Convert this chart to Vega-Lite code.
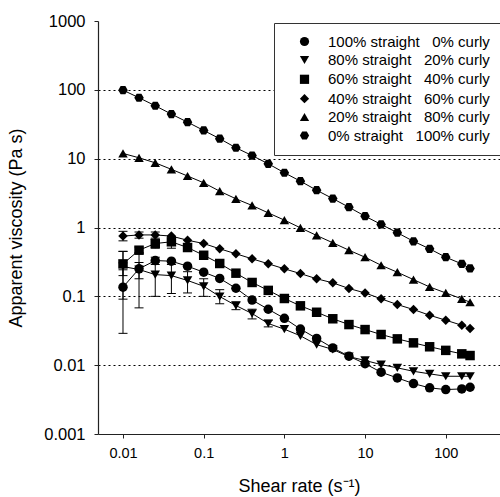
{
  "$schema": "https://vega.github.io/schema/vega-lite/v6.json",
  "width": 402,
  "height": 413,
  "autosize": {"type": "none"},
  "padding": {"left": 98, "top": 21, "right": 0, "bottom": 63},
  "config": {
    "font": "Liberation Sans",
    "view": {"stroke": null},
    "axis": {"domainColor": "#222", "tickColor": "#222", "labelColor": "black", "titleColor": "black", "titleFontWeight": "normal", "domainWidth": 1.2}
  },
  "datasets": {
    "pts": [
      {"series": "100% straight\u00a0\u00a0\u00a00% curly", "x": 0.01, "y": 0.136, "lo": 0.029, "hi": 0.243},
      {"series": "100% straight\u00a0\u00a0\u00a00% curly", "x": 0.0158, "y": 0.251, "lo": 0.068, "hi": 0.434},
      {"series": "100% straight\u00a0\u00a0\u00a00% curly", "x": 0.0251, "y": 0.331, "lo": 0.29, "hi": 0.37},
      {"series": "100% straight\u00a0\u00a0\u00a00% curly", "x": 0.0398, "y": 0.324},
      {"series": "100% straight\u00a0\u00a0\u00a00% curly", "x": 0.0631, "y": 0.274},
      {"series": "100% straight\u00a0\u00a0\u00a00% curly", "x": 0.1, "y": 0.224},
      {"series": "100% straight\u00a0\u00a0\u00a00% curly", "x": 0.158, "y": 0.182},
      {"series": "100% straight\u00a0\u00a0\u00a00% curly", "x": 0.251, "y": 0.131},
      {"series": "100% straight\u00a0\u00a0\u00a00% curly", "x": 0.398, "y": 0.0883},
      {"series": "100% straight\u00a0\u00a0\u00a00% curly", "x": 0.631, "y": 0.0649},
      {"series": "100% straight\u00a0\u00a0\u00a00% curly", "x": 1, "y": 0.0479},
      {"series": "100% straight\u00a0\u00a0\u00a00% curly", "x": 1.58, "y": 0.0335},
      {"series": "100% straight\u00a0\u00a0\u00a00% curly", "x": 2.51, "y": 0.0245},
      {"series": "100% straight\u00a0\u00a0\u00a00% curly", "x": 3.98, "y": 0.0178},
      {"series": "100% straight\u00a0\u00a0\u00a00% curly", "x": 6.31, "y": 0.0135},
      {"series": "100% straight\u00a0\u00a0\u00a00% curly", "x": 10, "y": 0.0105},
      {"series": "100% straight\u00a0\u00a0\u00a00% curly", "x": 15.8, "y": 0.0079},
      {"series": "100% straight\u00a0\u00a0\u00a00% curly", "x": 25.1, "y": 0.00653},
      {"series": "100% straight\u00a0\u00a0\u00a00% curly", "x": 39.8, "y": 0.0054},
      {"series": "100% straight\u00a0\u00a0\u00a00% curly", "x": 63.1, "y": 0.00468},
      {"series": "100% straight\u00a0\u00a0\u00a00% curly", "x": 100, "y": 0.00442},
      {"series": "100% straight\u00a0\u00a0\u00a00% curly", "x": 158, "y": 0.00452},
      {"series": "100% straight\u00a0\u00a0\u00a00% curly", "x": 200, "y": 0.00478},

      {"series": "80% straight\u00a0\u00a0\u00a020% curly", "x": 0.01, "y": 0.271, "lo": 0.091, "hi": 0.45},
      {"series": "80% straight\u00a0\u00a0\u00a020% curly", "x": 0.0158, "y": 0.245, "lo": 0.18, "hi": 0.31},
      {"series": "80% straight\u00a0\u00a0\u00a020% curly", "x": 0.0251, "y": 0.207, "lo": 0.1, "hi": 0.314},
      {"series": "80% straight\u00a0\u00a0\u00a020% curly", "x": 0.0398, "y": 0.2, "lo": 0.11, "hi": 0.29},
      {"series": "80% straight\u00a0\u00a0\u00a020% curly", "x": 0.0631, "y": 0.17, "lo": 0.112, "hi": 0.228},
      {"series": "80% straight\u00a0\u00a0\u00a020% curly", "x": 0.1, "y": 0.14, "lo": 0.1, "hi": 0.18},
      {"series": "80% straight\u00a0\u00a0\u00a020% curly", "x": 0.158, "y": 0.0993, "lo": 0.078, "hi": 0.125},
      {"series": "80% straight\u00a0\u00a0\u00a020% curly", "x": 0.251, "y": 0.0735, "lo": 0.064, "hi": 0.083},
      {"series": "80% straight\u00a0\u00a0\u00a020% curly", "x": 0.398, "y": 0.0562, "lo": 0.047, "hi": 0.065},
      {"series": "80% straight\u00a0\u00a0\u00a020% curly", "x": 0.631, "y": 0.0403, "lo": 0.036, "hi": 0.045},
      {"series": "80% straight\u00a0\u00a0\u00a020% curly", "x": 1, "y": 0.0333},
      {"series": "80% straight\u00a0\u00a0\u00a020% curly", "x": 1.58, "y": 0.0267},
      {"series": "80% straight\u00a0\u00a0\u00a020% curly", "x": 2.51, "y": 0.0199},
      {"series": "80% straight\u00a0\u00a0\u00a020% curly", "x": 3.98, "y": 0.0169},
      {"series": "80% straight\u00a0\u00a0\u00a020% curly", "x": 6.31, "y": 0.0133},
      {"series": "80% straight\u00a0\u00a0\u00a020% curly", "x": 10, "y": 0.0117},
      {"series": "80% straight\u00a0\u00a0\u00a020% curly", "x": 15.8, "y": 0.0102},
      {"series": "80% straight\u00a0\u00a0\u00a020% curly", "x": 25.1, "y": 0.00914},
      {"series": "80% straight\u00a0\u00a0\u00a020% curly", "x": 39.8, "y": 0.00815},
      {"series": "80% straight\u00a0\u00a0\u00a020% curly", "x": 63.1, "y": 0.00748},
      {"series": "80% straight\u00a0\u00a0\u00a020% curly", "x": 100, "y": 0.0069},
      {"series": "80% straight\u00a0\u00a0\u00a020% curly", "x": 158, "y": 0.0069},
      {"series": "80% straight\u00a0\u00a0\u00a020% curly", "x": 200, "y": 0.0069},

      {"series": "60% straight\u00a0\u00a0\u00a040% curly", "x": 0.01, "y": 0.296, "lo": 0.2, "hi": 0.45},
      {"series": "60% straight\u00a0\u00a0\u00a040% curly", "x": 0.0158, "y": 0.468, "lo": 0.42, "hi": 0.52},
      {"series": "60% straight\u00a0\u00a0\u00a040% curly", "x": 0.0251, "y": 0.585, "lo": 0.5, "hi": 0.67},
      {"series": "60% straight\u00a0\u00a0\u00a040% curly", "x": 0.0398, "y": 0.62, "lo": 0.5, "hi": 0.74},
      {"series": "60% straight\u00a0\u00a0\u00a040% curly", "x": 0.0631, "y": 0.512, "lo": 0.45, "hi": 0.58},
      {"series": "60% straight\u00a0\u00a0\u00a040% curly", "x": 0.1, "y": 0.395},
      {"series": "60% straight\u00a0\u00a0\u00a040% curly", "x": 0.158, "y": 0.3},
      {"series": "60% straight\u00a0\u00a0\u00a040% curly", "x": 0.251, "y": 0.217},
      {"series": "60% straight\u00a0\u00a0\u00a040% curly", "x": 0.398, "y": 0.159},
      {"series": "60% straight\u00a0\u00a0\u00a040% curly", "x": 0.631, "y": 0.122},
      {"series": "60% straight\u00a0\u00a0\u00a040% curly", "x": 1, "y": 0.093},
      {"series": "60% straight\u00a0\u00a0\u00a040% curly", "x": 1.58, "y": 0.0728},
      {"series": "60% straight\u00a0\u00a0\u00a040% curly", "x": 2.51, "y": 0.0587},
      {"series": "60% straight\u00a0\u00a0\u00a040% curly", "x": 3.98, "y": 0.0472},
      {"series": "60% straight\u00a0\u00a0\u00a040% curly", "x": 6.31, "y": 0.0389},
      {"series": "60% straight\u00a0\u00a0\u00a040% curly", "x": 10, "y": 0.0329},
      {"series": "60% straight\u00a0\u00a0\u00a040% curly", "x": 15.8, "y": 0.0279},
      {"series": "60% straight\u00a0\u00a0\u00a040% curly", "x": 25.1, "y": 0.0241},
      {"series": "60% straight\u00a0\u00a0\u00a040% curly", "x": 39.8, "y": 0.0211},
      {"series": "60% straight\u00a0\u00a0\u00a040% curly", "x": 63.1, "y": 0.0185},
      {"series": "60% straight\u00a0\u00a0\u00a040% curly", "x": 100, "y": 0.0164},
      {"series": "60% straight\u00a0\u00a0\u00a040% curly", "x": 158, "y": 0.0146},
      {"series": "60% straight\u00a0\u00a0\u00a040% curly", "x": 200, "y": 0.0138},

      {"series": "40% straight\u00a0\u00a0\u00a060% curly", "x": 0.01, "y": 0.75, "lo": 0.64, "hi": 0.88},
      {"series": "40% straight\u00a0\u00a0\u00a060% curly", "x": 0.0158, "y": 0.78, "lo": 0.7, "hi": 0.86},
      {"series": "40% straight\u00a0\u00a0\u00a060% curly", "x": 0.0251, "y": 0.78, "lo": 0.7, "hi": 0.86},
      {"series": "40% straight\u00a0\u00a0\u00a060% curly", "x": 0.0398, "y": 0.75},
      {"series": "40% straight\u00a0\u00a0\u00a060% curly", "x": 0.0631, "y": 0.653},
      {"series": "40% straight\u00a0\u00a0\u00a060% curly", "x": 0.1, "y": 0.585},
      {"series": "40% straight\u00a0\u00a0\u00a060% curly", "x": 0.158, "y": 0.49},
      {"series": "40% straight\u00a0\u00a0\u00a060% curly", "x": 0.251, "y": 0.415},
      {"series": "40% straight\u00a0\u00a0\u00a060% curly", "x": 0.398, "y": 0.351},
      {"series": "40% straight\u00a0\u00a0\u00a060% curly", "x": 0.631, "y": 0.297},
      {"series": "40% straight\u00a0\u00a0\u00a060% curly", "x": 1, "y": 0.251},
      {"series": "40% straight\u00a0\u00a0\u00a060% curly", "x": 1.58, "y": 0.214},
      {"series": "40% straight\u00a0\u00a0\u00a060% curly", "x": 2.51, "y": 0.18},
      {"series": "40% straight\u00a0\u00a0\u00a060% curly", "x": 3.98, "y": 0.157},
      {"series": "40% straight\u00a0\u00a0\u00a060% curly", "x": 6.31, "y": 0.13},
      {"series": "40% straight\u00a0\u00a0\u00a060% curly", "x": 10, "y": 0.112},
      {"series": "40% straight\u00a0\u00a0\u00a060% curly", "x": 15.8, "y": 0.092},
      {"series": "40% straight\u00a0\u00a0\u00a060% curly", "x": 25.1, "y": 0.076},
      {"series": "40% straight\u00a0\u00a0\u00a060% curly", "x": 39.8, "y": 0.0643},
      {"series": "40% straight\u00a0\u00a0\u00a060% curly", "x": 63.1, "y": 0.0531},
      {"series": "40% straight\u00a0\u00a0\u00a060% curly", "x": 100, "y": 0.045},
      {"series": "40% straight\u00a0\u00a0\u00a060% curly", "x": 158, "y": 0.038},
      {"series": "40% straight\u00a0\u00a0\u00a060% curly", "x": 200, "y": 0.034},

      {"series": "20% straight\u00a0\u00a0\u00a080% curly", "x": 0.01, "y": 11.9},
      {"series": "20% straight\u00a0\u00a0\u00a080% curly", "x": 0.0158, "y": 10.3},
      {"series": "20% straight\u00a0\u00a0\u00a080% curly", "x": 0.0251, "y": 8.7},
      {"series": "20% straight\u00a0\u00a0\u00a080% curly", "x": 0.0398, "y": 7.0},
      {"series": "20% straight\u00a0\u00a0\u00a080% curly", "x": 0.0631, "y": 5.6},
      {"series": "20% straight\u00a0\u00a0\u00a080% curly", "x": 0.1, "y": 4.46},
      {"series": "20% straight\u00a0\u00a0\u00a080% curly", "x": 0.158, "y": 3.37},
      {"series": "20% straight\u00a0\u00a0\u00a080% curly", "x": 0.251, "y": 2.61},
      {"series": "20% straight\u00a0\u00a0\u00a080% curly", "x": 0.398, "y": 2.09},
      {"series": "20% straight\u00a0\u00a0\u00a080% curly", "x": 0.631, "y": 1.63},
      {"series": "20% straight\u00a0\u00a0\u00a080% curly", "x": 1, "y": 1.28},
      {"series": "20% straight\u00a0\u00a0\u00a080% curly", "x": 1.58, "y": 0.99},
      {"series": "20% straight\u00a0\u00a0\u00a080% curly", "x": 2.51, "y": 0.766},
      {"series": "20% straight\u00a0\u00a0\u00a080% curly", "x": 3.98, "y": 0.6},
      {"series": "20% straight\u00a0\u00a0\u00a080% curly", "x": 6.31, "y": 0.468},
      {"series": "20% straight\u00a0\u00a0\u00a080% curly", "x": 10, "y": 0.37},
      {"series": "20% straight\u00a0\u00a0\u00a080% curly", "x": 15.8, "y": 0.283},
      {"series": "20% straight\u00a0\u00a0\u00a080% curly", "x": 25.1, "y": 0.224},
      {"series": "20% straight\u00a0\u00a0\u00a080% curly", "x": 39.8, "y": 0.175},
      {"series": "20% straight\u00a0\u00a0\u00a080% curly", "x": 63.1, "y": 0.137},
      {"series": "20% straight\u00a0\u00a0\u00a080% curly", "x": 100, "y": 0.112},
      {"series": "20% straight\u00a0\u00a0\u00a080% curly", "x": 158, "y": 0.092},
      {"series": "20% straight\u00a0\u00a0\u00a080% curly", "x": 200, "y": 0.082},

      {"series": "0% straight\u00a0\u00a0\u00a0100% curly", "x": 0.01, "y": 99},
      {"series": "0% straight\u00a0\u00a0\u00a0100% curly", "x": 0.0158, "y": 76.7},
      {"series": "0% straight\u00a0\u00a0\u00a0100% curly", "x": 0.0251, "y": 58.7},
      {"series": "0% straight\u00a0\u00a0\u00a0100% curly", "x": 0.0398, "y": 44.4},
      {"series": "0% straight\u00a0\u00a0\u00a0100% curly", "x": 0.0631, "y": 33.9},
      {"series": "0% straight\u00a0\u00a0\u00a0100% curly", "x": 0.1, "y": 25.7},
      {"series": "0% straight\u00a0\u00a0\u00a0100% curly", "x": 0.158, "y": 19.5},
      {"series": "0% straight\u00a0\u00a0\u00a0100% curly", "x": 0.251, "y": 14.4},
      {"series": "0% straight\u00a0\u00a0\u00a0100% curly", "x": 0.398, "y": 11.1},
      {"series": "0% straight\u00a0\u00a0\u00a0100% curly", "x": 0.631, "y": 8.43},
      {"series": "0% straight\u00a0\u00a0\u00a0100% curly", "x": 1, "y": 6.24},
      {"series": "0% straight\u00a0\u00a0\u00a0100% curly", "x": 1.58, "y": 4.71},
      {"series": "0% straight\u00a0\u00a0\u00a0100% curly", "x": 2.51, "y": 3.48},
      {"series": "0% straight\u00a0\u00a0\u00a0100% curly", "x": 3.98, "y": 2.63},
      {"series": "0% straight\u00a0\u00a0\u00a0100% curly", "x": 6.31, "y": 1.97},
      {"series": "0% straight\u00a0\u00a0\u00a0100% curly", "x": 10, "y": 1.46},
      {"series": "0% straight\u00a0\u00a0\u00a0100% curly", "x": 15.8, "y": 1.11},
      {"series": "0% straight\u00a0\u00a0\u00a0100% curly", "x": 25.1, "y": 0.84},
      {"series": "0% straight\u00a0\u00a0\u00a0100% curly", "x": 39.8, "y": 0.63},
      {"series": "0% straight\u00a0\u00a0\u00a0100% curly", "x": 63.1, "y": 0.49},
      {"series": "0% straight\u00a0\u00a0\u00a0100% curly", "x": 100, "y": 0.37},
      {"series": "0% straight\u00a0\u00a0\u00a0100% curly", "x": 158, "y": 0.296},
      {"series": "0% straight\u00a0\u00a0\u00a0100% curly", "x": 200, "y": 0.254}
    ]
  },
  "data": {"name": "pts"},
  "encoding": {
    "x": {
      "field": "x", "type": "quantitative",
      "scale": {"type": "log", "domain": [0.0049, 470], "nice": false},
      "axis": {
        "title": "Shear rate (s\u207b\u00b9)", "values": [0.01, 0.1, 1, 10, 100], "format": "~g",
        "grid": false, "tickSize": 4, "labelPadding": 8, "labelFontSize": 14.5,
        "titleFontSize": 18, "titlePadding": 18
      }
    }
  },
  "layer": [
    {
      "mark": {"type": "line", "color": "black", "strokeWidth": 1},
      "encoding": {
        "y": {
          "field": "y", "type": "quantitative",
          "scale": {"type": "log", "domain": [0.001, 1000], "nice": false},
          "axis": {
            "title": "Apparent viscosity (Pa s)", "values": [0.001, 0.01, 0.1, 1, 10, 100, 1000], "format": "~g",
            "grid": true, "gridColor": "black", "gridDash": [2, 3], "gridWidth": 1,
            "gridOpacity": {"condition": {"test": "datum.value >= 1000 || datum.value <= 0.001", "value": 0}, "value": 1},
            "tickSize": 4, "labelPadding": 9, "labelFontSize": 16.5, "titleFontSize": 18, "titlePadding": 18
          }
        },
        "detail": {"field": "series"}
      }
    },
    {
      "transform": [{"filter": "isValid(datum.lo)"}],
      "mark": {"type": "rule", "color": "black", "strokeWidth": 1},
      "encoding": {"y": {"field": "lo", "type": "quantitative"}, "y2": {"field": "hi"}}
    },
    {
      "transform": [{"filter": "isValid(datum.lo)"}],
      "mark": {"type": "tick", "orient": "horizontal", "size": 9, "thickness": 1, "color": "black", "opacity": 1},
      "encoding": {"y": {"field": "lo", "type": "quantitative"}}
    },
    {
      "transform": [{"filter": "isValid(datum.hi)"}],
      "mark": {"type": "tick", "orient": "horizontal", "size": 9, "thickness": 1, "color": "black", "opacity": 1},
      "encoding": {"y": {"field": "hi", "type": "quantitative"}}
    },
    {
      "mark": {"type": "point", "filled": true, "color": "black", "opacity": 1, "size": 90},
      "encoding": {
        "y": {"field": "y", "type": "quantitative"},
        "shape": {
          "field": "series", "type": "nominal",
          "scale": {
            "domain": [
              "100% straight\u00a0\u00a0\u00a00% curly",
              "80% straight\u00a0\u00a0\u00a020% curly",
              "60% straight\u00a0\u00a0\u00a040% curly",
              "40% straight\u00a0\u00a0\u00a060% curly",
              "20% straight\u00a0\u00a0\u00a080% curly",
              "0% straight\u00a0\u00a0\u00a0100% curly"
            ],
            "range": ["circle", "triangle-down", "square", "diamond", "triangle-up", "M-1,0L-0.5,-0.866L0.5,-0.866L1,0L0.5,0.866L-0.5,0.866Z"]
          },
          "legend": {
            "title": null, "orient": "none", "legendX": 176, "legendY": 2,
            "strokeColor": "#333", "fillColor": "white", "padding": 11,
            "labelFontSize": 15, "labelColor": "black", "labelOffset": 16,
            "symbolOffset": 12, "symbolSize": 85, "symbolFillColor": "black", "symbolStrokeColor": "black",
            "symbolOpacity": 1, "rowPadding": 2.4, "labelLimit": 300
          }
        }
      }
    }
  ]
}
